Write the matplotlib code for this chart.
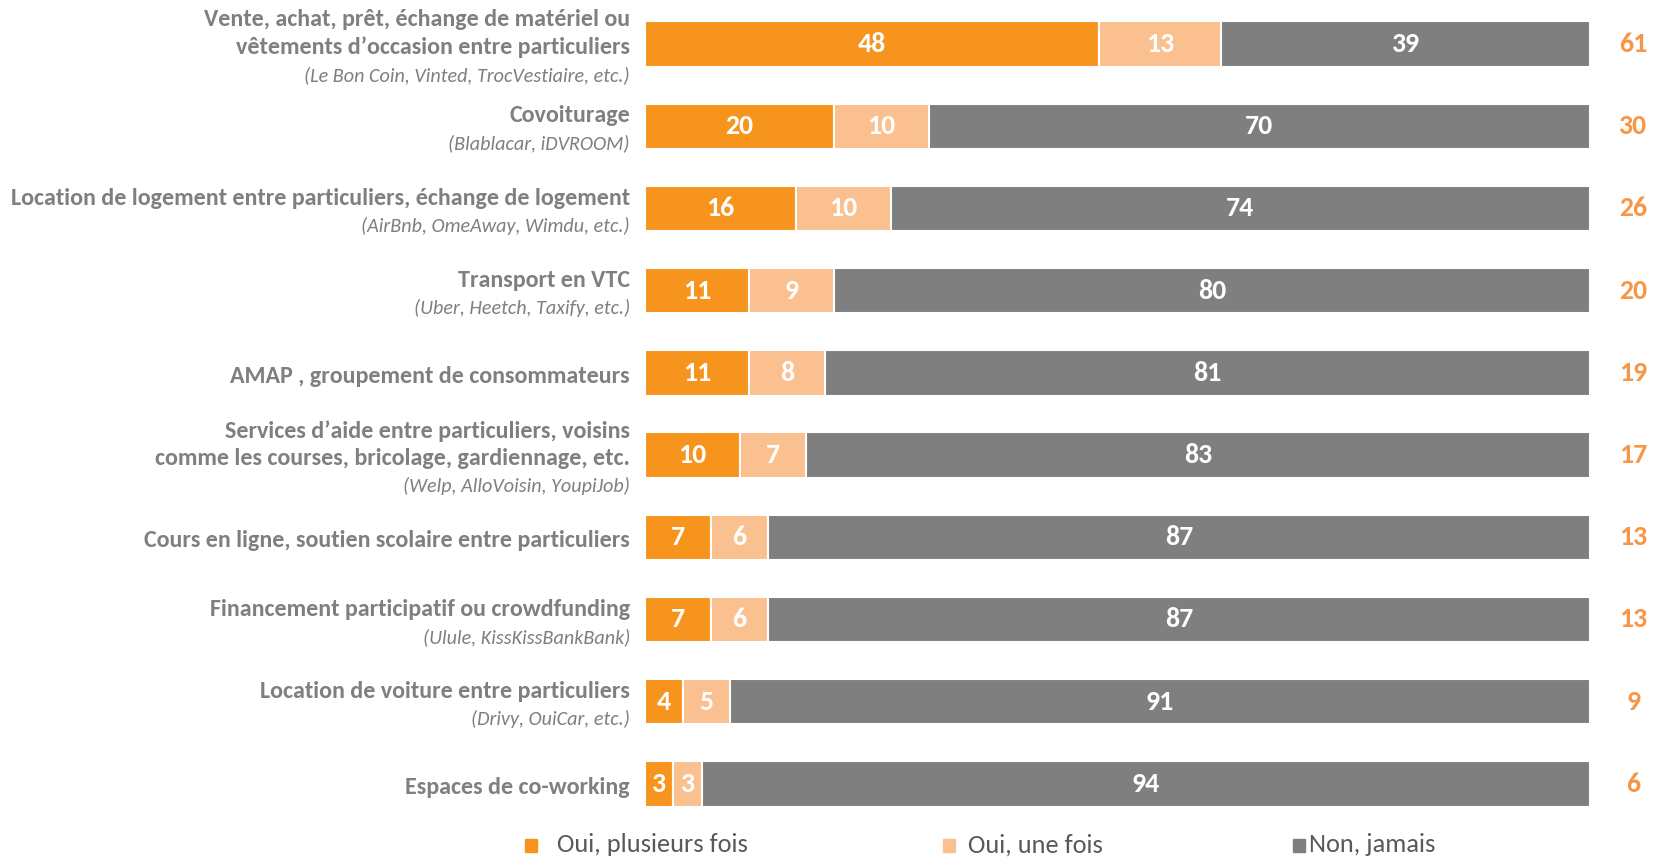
import numpy as np
import matplotlib
matplotlib.use("Agg")
import matplotlib.pyplot as plt
from matplotlib.patches import Rectangle

plt.rcParams['font.family'] = ['Carlito', 'DejaVu Sans']

# data
titles = [
    ["Vente, achat, prêt, échange de matériel ou", "vêtements d’occasion entre particuliers"],
    ["Covoiturage"],
    ["Location de logement entre particuliers, échange de logement"],
    ["Transport en VTC"],
    ["AMAP , groupement de consommateurs"],
    ["Services d’aide entre particuliers, voisins", "comme les courses, bricolage, gardiennage, etc."],
    ["Cours en ligne, soutien scolaire entre particuliers"],
    ["Financement participatif ou crowdfunding"],
    ["Location de voiture entre particuliers"],
    ["Espaces de co-working"],
]
examples = [
    "(Le Bon Coin, Vinted, TrocVestiaire, etc.)",
    "(Blablacar, iDVROOM)",
    "(AirBnb, OmeAway, Wimdu, etc.)",
    "(Uber, Heetch, Taxify, etc.)",
    "",
    "(Welp, AlloVoisin, YoupiJob)",
    "",
    "(Ulule, KissKissBankBank)",
    "(Drivy, OuiCar, etc.)",
    "",
]
plusieurs = [48, 20, 16, 11, 11, 10, 7, 7, 4, 3]
une_fois = [13, 10, 10, 9, 8, 7, 6, 6, 5, 3]
jamais = [39, 70, 74, 80, 81, 83, 87, 87, 91, 94]
totals = [61, 30, 26, 20, 19, 17, 13, 13, 9, 6]
series_names = ["Oui, plusieurs fois", "Oui, une fois", "Non, jamais"]

ORANGE = "#F7941D"
PEACH = "#FAC090"
GREY = "#7F7F7F"
TOTAL_COL = "#F79646"
TEXT_COL = "#7F7F7F"

W, H = 1671, 857
fig = plt.figure(figsize=(W / 100, H / 100), dpi=100)
ax = fig.add_axes([645 / W, 1 - 825 / H, 945 / W, 822 / H])

y = np.arange(len(titles))
left = np.zeros(len(titles))
for vals, col in zip([plusieurs, une_fois, jamais], [ORANGE, PEACH, GREY]):
    vals = np.array(vals)
    ax.barh(y, vals, left=left, height=0.55, color=col, edgecolor="white", linewidth=1.5)
    for yi, l, v in zip(y, left, vals):
        ax.text(l + v / 2, yi, str(v), ha="center", va="center", color="white",
                fontsize=20, fontweight="bold")
    left = left + vals

for yi, t in zip(y, totals):
    ax.text(104.6, yi, str(t), ha="center", va="center", color=TOTAL_COL,
            fontsize=20, fontweight="bold")

# category labels
tr = ax.get_yaxis_transform()
for yi, lines, ex in zip(y, titles, examples):
    items = [(l, "bold", "normal", 17.3) for l in lines]
    if ex:
        items.append((ex, "normal", "italic", 14.5))
    n = len(items)
    for k, (txt, w, st, fs) in enumerate(items):
        dy = -(3.5 + (k - (n - 1) / 2) * 27.7)
        ax.annotate(txt, xy=(0, yi), xycoords=tr, xytext=(-15, dy),
                    textcoords="offset pixels", ha="right", va="center",
                    fontsize=fs, fontweight=w, fontstyle=st, color=TEXT_COL,
                    annotation_clip=False)

ax.set_xlim(0, 100)
ax.set_ylim(9.5, -0.5)
ax.axis("off")

# legend
for name, col, mx, tx in zip(series_names, [ORANGE, PEACH, GREY],
                             [525, 943, 1293], [557, 968, 1309]):
    fig.add_artist(Rectangle((mx / W, 1 - 852 / H), 12 / W, 13 / H,
                             transform=fig.transFigure, color=col))
    fig.text(tx / W, 1 - 845 / H, name, ha="left", va="center", fontsize=19,
             color="#595959")

fig.savefig("out.png", dpi=100)
